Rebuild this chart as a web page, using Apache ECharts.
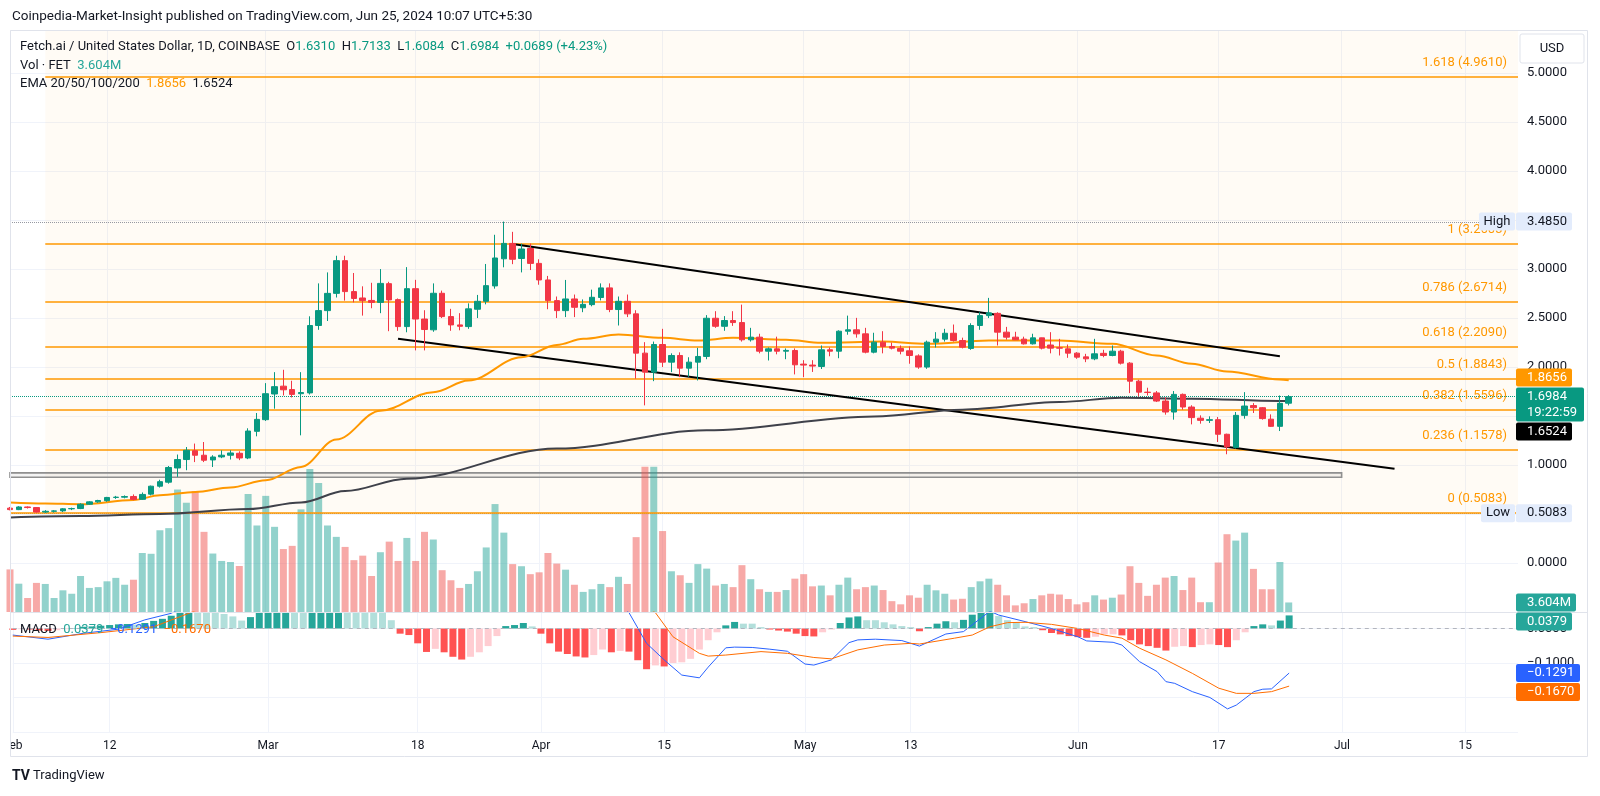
<!DOCTYPE html>
<html>
<head>
<meta charset="utf-8">
<title>Fetch.ai / United States Dollar, 1D</title>
<script src="https://cdn.jsdelivr.net/npm/echarts@6.0.0/dist/echarts.min.js"></script>
<style>
html,body{margin:0;padding:0;background:#ffffff;}
#chart{width:1600px;height:796px;}
</style>
</head>
<body>
<div id="chart"></div>
<script>
// ================= DATA =================
const firstDay = '2024-02-01';
const lastDay = '2024-07-21';
const tickLabels = {
  '2024-02-01':'Feb','2024-02-12':'12','2024-03-01':'Mar','2024-03-18':'18',
  '2024-04-01':'Apr','2024-04-15':'15','2024-05-01':'May','2024-05-13':'13',
  '2024-06-01':'Jun','2024-06-17':'17','2024-07-01':'Jul','2024-07-15':'15'
};
// daily candles [open, high, low, close], 2024-02-01 .. 2024-06-25
const ohlc = [
  // Feb
  [0.560,0.572,0.538,0.545],[0.545,0.580,0.540,0.572],[0.572,0.578,0.556,0.566],[0.566,0.570,0.515,0.520],
  [0.520,0.540,0.510,0.528],[0.528,0.540,0.515,0.532],[0.532,0.560,0.520,0.553],[0.553,0.565,0.540,0.556],
  [0.556,0.610,0.550,0.600],[0.600,0.630,0.595,0.624],[0.624,0.645,0.615,0.638],[0.636,0.675,0.625,0.669],
  [0.669,0.685,0.655,0.672],[0.672,0.690,0.660,0.678],[0.679,0.700,0.640,0.649],[0.650,0.720,0.645,0.700],
  [0.703,0.790,0.690,0.784],[0.784,0.850,0.770,0.830],[0.825,0.990,0.810,0.975],[0.970,1.107,0.879,1.056],
  [1.056,1.184,0.947,1.151],[1.146,1.219,1.030,1.100],[1.100,1.235,1.030,1.049],[1.052,1.100,0.980,1.082],
  [1.083,1.150,1.070,1.100],[1.100,1.151,1.056,1.123],[1.120,1.140,1.050,1.072],[1.072,1.375,1.060,1.347],
  [1.344,1.531,1.293,1.466],
  // Mar
  [1.463,1.836,1.450,1.728],[1.725,1.948,1.575,1.800],[1.805,1.972,1.710,1.768],[1.770,1.860,1.690,1.721],
  [1.728,1.948,1.303,1.740],[1.736,2.518,1.720,2.424],[2.424,2.854,2.380,2.576],[2.576,2.966,2.470,2.752],
  [2.752,3.136,2.710,3.086],[3.086,3.136,2.678,2.770],[2.770,2.960,2.660,2.700],[2.705,2.824,2.525,2.678],
  [2.680,2.860,2.600,2.660],[2.660,3.000,2.550,2.854],[2.851,2.870,2.366,2.685],[2.688,2.700,2.370,2.413],
  [2.413,3.020,2.355,2.800],[2.800,2.890,2.170,2.490],[2.490,2.580,2.170,2.383],[2.380,2.854,2.360,2.753],
  [2.753,2.780,2.500,2.515],[2.515,2.594,2.370,2.430],[2.430,2.550,2.375,2.416],[2.413,2.650,2.390,2.594],
  [2.590,2.736,2.500,2.671],[2.671,3.052,2.640,2.831],[2.828,3.350,2.800,3.113],[3.105,3.485,3.018,3.262],
  [3.262,3.380,3.050,3.100],[3.108,3.260,2.966,3.205],[3.210,3.260,2.990,3.058],
  // Apr
  [3.058,3.100,2.840,2.889],[2.889,2.930,2.590,2.678],[2.678,2.720,2.500,2.576],[2.576,2.889,2.510,2.695],
  [2.695,2.740,2.510,2.610],[2.605,2.690,2.560,2.640],[2.637,2.790,2.620,2.712],[2.710,2.854,2.680,2.808],
  [2.808,2.854,2.560,2.587],[2.587,2.720,2.424,2.671],[2.671,2.740,2.510,2.543],[2.543,2.580,1.881,2.142],
  [2.142,2.254,1.609,1.948],[1.948,2.260,1.856,2.230],[2.230,2.390,2.000,2.050],[2.050,2.140,1.948,2.118],
  [2.118,2.150,1.897,1.989],[1.989,2.100,1.900,2.050],[2.050,2.196,1.863,2.108],[2.108,2.530,2.080,2.498],
  [2.498,2.570,2.400,2.416],[2.416,2.520,2.370,2.475],[2.475,2.570,2.420,2.454],[2.454,2.637,2.260,2.278],
  [2.278,2.400,2.260,2.305],[2.305,2.340,2.140,2.162],[2.162,2.200,2.067,2.186],[2.186,2.310,2.130,2.162],
  [2.162,2.190,2.080,2.170],[2.169,2.190,1.925,2.023],
  // May
  [2.030,2.070,1.897,2.020],[2.020,2.070,1.950,2.010],[2.006,2.220,1.980,2.176],[2.176,2.200,2.110,2.162],
  [2.162,2.375,2.090,2.366],[2.366,2.525,2.330,2.380],[2.380,2.502,2.300,2.339],[2.339,2.400,2.140,2.152],
  [2.152,2.350,2.140,2.254],[2.254,2.366,2.140,2.210],[2.210,2.250,2.180,2.193],[2.190,2.220,2.130,2.162],
  [2.166,2.210,2.034,2.118],[2.114,2.130,1.982,2.000],[2.000,2.270,1.982,2.254],[2.254,2.356,2.200,2.285],
  [2.285,2.390,2.260,2.345],[2.345,2.434,2.260,2.271],[2.271,2.300,2.190,2.203],[2.190,2.447,2.176,2.424],
  [2.424,2.559,2.380,2.525],[2.525,2.706,2.500,2.553],[2.548,2.559,2.220,2.356],[2.356,2.410,2.280,2.305],
  [2.305,2.360,2.280,2.278],[2.285,2.310,2.230,2.237],[2.237,2.340,2.230,2.298],[2.298,2.300,2.180,2.193],
  [2.225,2.356,2.140,2.193],[2.197,2.288,2.118,2.193],[2.186,2.230,2.094,2.142],
  // Jun
  [2.142,2.152,2.084,2.101],[2.104,2.135,2.050,2.084],[2.084,2.288,2.070,2.135],[2.140,2.176,2.100,2.118],
  [2.118,2.220,2.110,2.162],[2.162,2.176,2.026,2.040],[2.040,2.050,1.734,1.856],[1.856,1.870,1.700,1.744],
  [1.744,1.789,1.710,1.740],[1.736,1.755,1.643,1.653],[1.653,1.690,1.514,1.541],[1.541,1.755,1.463,1.721],
  [1.721,1.730,1.565,1.592],[1.592,1.610,1.415,1.484],[1.478,1.507,1.422,1.456],[1.456,1.497,1.429,1.463],
  [1.463,1.490,1.235,1.314],[1.314,1.320,1.110,1.185],[1.180,1.541,1.168,1.507],[1.507,1.744,1.473,1.602],
  [1.607,1.632,1.531,1.585],[1.585,1.592,1.463,1.474],[1.468,1.517,1.388,1.395],[1.395,1.710,1.347,1.6295],
  [1.6310,1.7133,1.6084,1.6984]
];
// daily volume (millions of FET)
const volumes = [
  16.1,10.7,5.3,11.0,10.6,5.3,8.2,6.9,13.6,9.1,9.4,11.6,12.9,10.3,12.2,22.3,22.0,30.9,31.7,46.3,41.3,45.7,30.3,22.1,19.3,18.9,17.4,44.6,32.7,
  43.9,32.2,23.8,25.0,38.8,54.1,48.8,32.7,28.4,24.6,19.6,21.3,13.6,22.6,26.6,19.3,28.0,19.3,30.3,27.4,15.8,12.0,9.1,10.6,15.4,24.4,40.8,30.0,18.1,17.3,14.3,
  15.0,22.3,18.3,16.0,10.3,7.6,8.6,10.6,9.4,13.3,10.6,28.3,54.9,54.9,30.6,15.4,13.9,11.0,18.1,16.4,10.0,10.6,9.4,17.7,12.4,8.6,7.6,7.6,8.3,12.6,
  14.3,9.7,10.0,6.3,10.3,13.0,8.6,9.4,10.0,8.3,4.1,2.9,6.3,5.4,10.3,8.2,6.9,4.7,5.0,9.4,11.6,12.6,10.3,6.3,2.5,3.3,4.9,6.3,6.9,6.6,4.9,
  2.9,3.7,6.3,4.7,5.4,6.6,17.3,11.0,6.1,10.3,13.0,13.6,8.3,13.0,3.7,3.7,18.7,29.4,27.0,30.0,16.3,8.6,8.6,18.9,3.604
];
// MACD histogram
const macdHist = [
  -0.004,-0.002,-0.003,-0.006,-0.007,-0.005,-0.002,0.001,0.005,0.006,0.008,0.010,0.012,0.013,0.011,0.016,0.022,0.028,0.037,0.050,0.058,0.056,0.052,0.048,0.042,0.035,0.023,0.033,0.050,
  0.065,0.072,0.075,0.066,0.060,0.080,0.095,0.105,0.115,0.108,0.095,0.080,0.062,0.050,0.024,-0.015,-0.019,-0.043,-0.068,-0.059,-0.069,-0.082,-0.090,-0.082,-0.069,-0.051,-0.022,0.007,0.010,0.016,0.006,
  -0.015,-0.043,-0.067,-0.074,-0.081,-0.084,-0.077,-0.061,-0.069,-0.065,-0.067,-0.092,-0.118,-0.107,-0.110,-0.100,-0.098,-0.088,-0.061,-0.034,-0.011,0.009,0.019,0.014,0.014,0.004,-0.003,-0.006,-0.009,-0.015,
  -0.022,-0.023,-0.011,-0.003,0.016,0.032,0.035,0.024,0.024,0.018,0.012,0.007,0.004,-0.008,0.004,0.014,0.021,0.018,0.025,0.040,0.047,0.048,0.036,0.024,0.018,0.006,0.004,-0.005,-0.013,-0.017,-0.022,
  -0.025,-0.027,-0.024,-0.017,-0.017,-0.020,-0.034,-0.046,-0.051,-0.056,-0.064,-0.053,-0.051,-0.054,-0.048,-0.046,-0.048,-0.054,-0.034,-0.011,0.007,0.012,0.009,0.023,0.0379
];
// moving averages
const ema50Pts = [
  ['2024-02-01',0.618],['2024-02-05',0.608],['2024-02-09',0.600],['2024-02-15',0.642],['2024-02-18',0.692],
  ['2024-02-22',0.726],['2024-02-26',0.771],['2024-03-01',0.845],['2024-03-05',0.981],['2024-03-09',1.260],
  ['2024-03-14',1.555],['2024-03-20',1.744],['2024-03-24',1.863],['2024-03-30',2.100],['2024-04-03',2.225],
  ['2024-04-06',2.288],['2024-04-10',2.332],['2024-04-15',2.298],['2024-04-19',2.271],['2024-04-23',2.298],
  ['2024-04-29',2.278],['2024-05-03',2.247],['2024-05-10',2.260],['2024-05-15',2.237],['2024-05-22',2.271],
  ['2024-05-30',2.271],['2024-06-05',2.237],['2024-06-10',2.118],['2024-06-14',2.034],['2024-06-18',1.955],
  ['2024-06-24',1.873],['2024-06-25',1.8656]
];
const ema200Pts = [
  ['2024-02-01',0.465],['2024-02-09',0.479],['2024-02-18',0.499],['2024-02-28',0.550],['2024-03-05',0.618],
  ['2024-03-10',0.735],['2024-03-17',0.860],['2024-04-03',1.168],['2024-04-20',1.354],['2024-05-09',1.495],
  ['2024-05-19',1.565],['2024-05-30',1.643],['2024-06-06',1.687],['2024-06-14',1.677],['2024-06-24',1.653],
  ['2024-06-25',1.6524]
];
const macdPts = [
  ['2024-02-01',-0.019],['2024-02-05',-0.031],['2024-02-09',-0.014],['2024-02-13',-0.002],['2024-02-16',0.025],
  ['2024-02-19',0.044],['2024-02-22',0.085],['2024-03-01',0.160],['2024-03-09',0.300],['2024-03-20',0.250],
  ['2024-04-01',0.190],['2024-04-08',0.110],['2024-04-11',0.046],['2024-04-13',-0.043],['2024-04-15',-0.091],
  ['2024-04-17',-0.135],['2024-04-19',-0.143],['2024-04-20',-0.112],['2024-04-22',-0.056],['2024-04-23',-0.054],
  ['2024-04-25',-0.055],['2024-04-27',-0.060],['2024-04-29',-0.066],['2024-05-01',-0.103],['2024-05-02',-0.106],
  ['2024-05-04',-0.091],['2024-05-06',-0.041],['2024-05-07',-0.033],['2024-05-09',-0.031],['2024-05-12',-0.035],
  ['2024-05-14',-0.051],['2024-05-17',-0.016],['2024-05-19',-0.009],['2024-05-22',0.050],['2024-05-23',0.039],
  ['2024-05-26',0.020],['2024-05-29',0.000],['2024-06-01',-0.024],['2024-06-02',-0.036],['2024-06-05',-0.040],
  ['2024-06-06',-0.048],['2024-06-08',-0.096],['2024-06-10',-0.125],['2024-06-11',-0.154],['2024-06-12',-0.159],
  ['2024-06-14',-0.183],['2024-06-16',-0.200],['2024-06-18',-0.233],['2024-06-19',-0.222],['2024-06-21',-0.183],
  ['2024-06-22',-0.176],['2024-06-23',-0.175],['2024-06-25',-0.1291]
];
const signalPts = [
  ['2024-02-01',-0.022],['2024-02-05',-0.026],['2024-02-11',-0.012],['2024-02-17',0.005],['2024-02-21',0.044],
  ['2024-02-24',0.075],['2024-03-05',0.130],['2024-03-15',0.240],['2024-03-25',0.230],['2024-04-05',0.170],
  ['2024-04-11',0.100],['2024-04-14',0.046],['2024-04-16',-0.024],['2024-04-19',-0.072],['2024-04-20',-0.080],
  ['2024-04-22',-0.077],['2024-04-26',-0.067],['2024-04-29',-0.072],['2024-05-02',-0.084],['2024-05-04',-0.088],
  ['2024-05-07',-0.062],['2024-05-10',-0.048],['2024-05-13',-0.043],['2024-05-14',-0.045],['2024-05-18',-0.028],
  ['2024-05-20',-0.019],['2024-05-22',0.005],['2024-05-24',0.017],['2024-05-26',0.018],['2024-05-29',0.012],
  ['2024-06-01',0.000],['2024-06-04',-0.019],['2024-06-06',-0.028],['2024-06-08',-0.057],['2024-06-11',-0.091],
  ['2024-06-14',-0.130],['2024-06-17',-0.173],['2024-06-19',-0.188],['2024-06-21',-0.188],['2024-06-23',-0.183],
  ['2024-06-25',-0.1670]
];
// drawings
const fibRatios = ['1.618','1','0.786','0.618','0.5','0.382','0.236','0'];
const fibPrices = [4.9610, 3.2603, 2.6714, 2.2090, 1.8843, 1.5596, 1.1578, 0.5083];
const fibStart = '2024-02-05';
const channelUpper = [['2024-03-29', 3.256], ['2024-06-24', 2.110]];
const channelLower = [['2024-03-16', 2.289], ['2024-07-07', 0.963]];
const supportZone = [['2024-02-01', 0.920], ['2024-07-01', 0.875]];
const rangeHigh = 3.4850, rangeLow = 0.5083;
const emaLast = [1.8656, 1.6524];
const volLast = 3.604;
const macdLast = [0.0379, -0.1291, -0.1670];
const countdown = '19:22:59';

// ================= BUILD =================
const FONT = "Roboto, 'Noto Sans', 'DejaVu Sans', sans-serif";
const UP = '#089981', DOWN = '#f23645';
const dates = [];
for (let t = Date.parse(firstDay + 'T00:00:00Z'); t <= Date.parse(lastDay + 'T00:00:00Z'); t += 86400000) {
  dates.push(new Date(t).toISOString().slice(0, 10));
}
const isTick = (i, v) => tickLabels[v] !== undefined;
const candleData = ohlc.map(([o, h, l, c]) => [o, c, l, h]);
const volData = volumes.map((v, i) => ({
  value: v,
  itemStyle: { color: ohlc[i][3] >= ohlc[i][0] ? 'rgba(38,166,154,0.5)' : 'rgba(239,83,80,0.5)' }
}));
const histData = macdHist.map((v, i) => {
  const p = i > 0 ? macdHist[i - 1] : 0;
  let col;
  if (v >= 0) col = v > p ? '#26a69a' : '#b2dfdb';
  else col = v < p ? '#ff5252' : '#ffcdd2';
  return { value: v, itemStyle: { color: col } };
});
const fmt4 = v => v.toFixed(4);
const sgn = v => (v < 0 ? '\u2212' : '') + Math.abs(v).toFixed(4);

const fibLines = fibPrices.map((p, k) => [
  { coord: [k === fibPrices.length - 1 ? firstDay : fibStart, p] },
  { coord: [lastDay, p] }
]);

const chart = echarts.init(document.getElementById('chart'), null, { renderer: 'canvas' });
const option = {
  animation: false,
  backgroundColor: '#ffffff',
  textStyle: { fontFamily: FONT },
  grid: [
    { left: 10, top: 30, width: 1508, height: 582 },
    { left: 10, top: 612, width: 1508, height: 120 }
  ],
  xAxis: [
    { type: 'category', data: dates, gridIndex: 0, boundaryGap: false,
      axisLine: { show: false }, axisTick: { show: false }, axisLabel: { show: false },
      splitLine: { show: true, interval: isTick, lineStyle: { color: '#f0f3fa', width: 1 } } },
    { type: 'category', data: dates, gridIndex: 1, boundaryGap: false,
      axisLine: { show: false }, axisTick: { show: false },
      axisLabel: { show: true, interval: isTick, formatter: v => tickLabels[v] || '', color: '#131722',
        fontSize: 12, fontFamily: FONT, margin: 8 },
      splitLine: { show: true, interval: isTick, lineStyle: { color: '#f0f3fa', width: 1 } } }
  ],
  yAxis: [
    { type: 'value', gridIndex: 0, position: 'right', min: -0.5, max: 5.44, interval: 0.5,
      axisLine: { show: false }, axisTick: { show: false },
      axisLabel: { showMaxLabel: false, margin: 9, color: '#131722', fontSize: 13, fontFamily: FONT,
        formatter: v => { const r = Math.round(v * 100) / 100; return ([-0.5, 0.5, 1.5, 3.5].includes(r) || r > 5.2) ? '' : r.toFixed(4); } },
      splitLine: { lineStyle: { color: '#f0f3fa' } } },
    { type: 'value', gridIndex: 0, min: 0, max: 220, show: false, splitLine: { show: false } },
    { type: 'value', gridIndex: 1, position: 'right', min: -0.3, max: 0.0478, interval: 0.1,
      axisLine: { show: false }, axisTick: { show: false },
      axisLabel: { showMaxLabel: false, margin: 9, color: '#131722', fontSize: 13, fontFamily: FONT,
        formatter: v => { const r = Math.round(v * 1000) / 1000; return (r < -0.25 || r > 0.01) ? '' : sgn(r); } },
      splitLine: { lineStyle: { color: '#f0f3fa' } } }
  ],
  series: [
    { name: 'fibFill', type: 'line', xAxisIndex: 0, yAxisIndex: 0, data: [], z: 1, silent: true,
      markArea: { silent: true, itemStyle: { color: 'rgba(255,152,0,0.04)' },
        data: [[{ coord: [fibStart, 5.44] }, { coord: [lastDay, rangeLow] }]] } },
    { name: 'Volume', type: 'bar', xAxisIndex: 0, yAxisIndex: 1, data: volData, barWidth: 7, z: 2, silent: true },
    { name: 'levels', type: 'line', xAxisIndex: 0, yAxisIndex: 0, data: [], z: 3, silent: true,
      markArea: { silent: true, itemStyle: { color: 'rgba(160,160,160,0.12)', borderColor: '#8f8f8f', borderWidth: 1.6 },
        data: [[{ coord: supportZone[0] }, { coord: supportZone[1] }]] },
      markLine: { silent: true, symbol: ['none', 'none'], label: { show: false },
        data: [
          { yAxis: rangeHigh, lineStyle: { color: '#9598a1', type: 'dotted', width: 1 } },
          { yAxis: rangeLow, lineStyle: { color: '#9598a1', type: 'dotted', width: 1 } },
          { yAxis: ohlc[ohlc.length - 1][3], lineStyle: { color: UP, type: 'dotted', width: 1 } }
        ] } },
    { name: 'fib', type: 'line', xAxisIndex: 0, yAxisIndex: 0, data: [], z: 4, silent: true,
      markLine: { silent: true, symbol: ['none', 'none'], label: { show: false },
        lineStyle: { color: '#ff9800', width: 1.6, type: 'solid' }, data: fibLines } },
    { name: 'EMA200', type: 'line', xAxisIndex: 0, yAxisIndex: 0, data: ema200Pts, z: 5, silent: true,
      smooth: 0.35, smoothMonotone: 'x', showSymbol: false, lineStyle: { color: '#3f414a', width: 2 } },
    { name: 'EMA50', type: 'line', xAxisIndex: 0, yAxisIndex: 0, data: ema50Pts, z: 5, silent: true,
      smooth: 0.35, smoothMonotone: 'x', showSymbol: false, lineStyle: { color: '#ff9800', width: 2 } },
    { name: 'channel', type: 'line', xAxisIndex: 0, yAxisIndex: 0, data: [], z: 6, silent: true,
      markLine: { silent: true, symbol: ['none', 'none'], label: { show: false },
        lineStyle: { color: '#000000', width: 2, type: 'solid' },
        data: [
          [{ coord: channelUpper[0] }, { coord: channelUpper[1] }],
          [{ coord: channelLower[0] }, { coord: channelLower[1] }]
        ] } },
    { name: 'FETUSD', type: 'candlestick', xAxisIndex: 0, yAxisIndex: 0, data: candleData, z: 7, silent: true,
      barWidth: 6,
      itemStyle: { color: UP, color0: DOWN, borderColor: UP, borderColor0: DOWN, borderWidth: 1 } },
    { name: 'Histogram', type: 'bar', xAxisIndex: 1, yAxisIndex: 2, data: histData, barWidth: 7, z: 2, silent: true,
      markLine: { silent: true, symbol: ['none', 'none'], label: { show: false },
        lineStyle: { color: '#b2b5be', type: [4, 4], width: 1 }, data: [{ yAxis: 0 }] } },
    { name: 'MACD', type: 'line', xAxisIndex: 1, yAxisIndex: 2, data: macdPts, z: 3, silent: true,
      showSymbol: false, lineStyle: { color: '#2962ff', width: 1 } },
    { name: 'Signal', type: 'line', xAxisIndex: 1, yAxisIndex: 2, data: signalPts, z: 3, silent: true,
      showSymbol: false, lineStyle: { color: '#ff6d00', width: 1 } }
  ]
};
chart.setOption(option);

// ================= OVERLAY TEXT / BADGES =================
const py = v => chart.convertToPixel({ yAxisIndex: 0 }, v);
const vy = v => chart.convertToPixel({ yAxisIndex: 1 }, v);
const my = v => chart.convertToPixel({ yAxisIndex: 2 }, v);
const gx = d => chart.convertToPixel({ xAxisIndex: 0 }, d);
const plotRight = gx(lastDay);
const bx = plotRight - 2;
const els = [];
const txt = (x, y, text, fill, size, align, z, weight) => els.push({
  type: 'text', x, y, z: z || 40, silent: true,
  style: { text, fill, font: (weight ? weight + ' ' : '') + (size || 13) + 'px ' + FONT, align: align || 'left', verticalAlign: 'middle' }
});
const rect = (x, y, w, h, fill, z, stroke) => els.push({
  type: 'rect', z: z || 90, silent: true, shape: { x, y, width: w, height: h, r: 2 },
  style: { fill, stroke: stroke || null, lineWidth: 1 }
});
function badge(x, top, w, lines, bg, fg) {
  const h = 18 + (lines.length - 1) * 16;
  rect(x, top, w, h, bg, 90);
  lines.forEach((t, k) => txt(x + 11, top + 9 + k * 16, t, fg, 13, 'left', 91));
  return top + h;
}

// header
txt(12, 17, 'Coinpedia-Market-Insight published on TradingView.com, Jun 25, 2024 10:07 UTC+5:30', '#131722', 13.5);
// legend
const L = ohlc[ohlc.length - 1], P = ohlc[ohlc.length - 2][3];
const chg = L[3] - P;
const rich = {
  d: { fill: '#131722', fontSize: 13, fontFamily: FONT },
  g: { fill: UP, fontSize: 13, fontFamily: FONT },
  t: { fill: '#26a69a', fontSize: 13, fontFamily: FONT },
  o: { fill: '#ff9800', fontSize: 13, fontFamily: FONT },
  b: { fill: '#2962ff', fontSize: 13, fontFamily: FONT },
  r: { fill: '#ff6d00', fontSize: 13, fontFamily: FONT }
};
const richText = (x, y, text) => els.push({ type: 'text', x, y, z: 40, silent: true,
  style: { text, rich, fill: '#131722', font: '13px ' + FONT, align: 'left', verticalAlign: 'middle' } });
richText(20, 47, '{d|Fetch.ai / United States Dollar, 1D, COINBASE}  {d|O}{g|' + fmt4(L[0]) + '}  {d|H}{g|' + fmt4(L[1]) +
  '}  {d|L}{g|' + fmt4(L[2]) + '}  {d|C}{g|' + fmt4(L[3]) + '}  {g|+' + fmt4(chg) + ' (+' + (chg / P * 100).toFixed(2) + '%)}');
richText(20, 66, '{d|Vol \u00b7 FET}  {t|' + volLast.toFixed(3) + 'M}');
richText(20, 84, '{d|EMA 20/50/100/200}  {o|' + fmt4(emaLast[0]) + '}  {d|' + fmt4(emaLast[1]) + '}');
richText(20, 630, '{d|MACD}  {t|' + fmt4(macdLast[0]) + '}  {b|' + sgn(macdLast[1]) + '}  {r|' + sgn(macdLast[2]) + '}');

// fib labels
fibPrices.forEach((p, k) => txt(plotRight - 11, py(p) - 14, fibRatios[k] + ' (' + fmt4(p) + ')', '#ff9800', 13, 'right', 30));

// range high / low labels
const hY = py(rangeHigh) - 9;
rect(bx - 37, hY, 36, 18, '#e3ecfc', 90); txt(bx - 19, hY + 9, 'High', '#131722', 13, 'center', 91);
rect(bx, hY, 56, 18, '#e3ecfc', 90); txt(bx + 11, hY + 9, fmt4(rangeHigh), '#131722', 13, 'left', 91);
const lY = py(rangeLow) - 9;
rect(bx - 35, lY, 34, 18, '#e3ecfc', 90); txt(bx - 18, lY + 9, 'Low', '#131722', 13, 'center', 91);
rect(bx, lY, 56, 18, '#e3ecfc', 90); txt(bx + 11, lY + 9, fmt4(rangeLow), '#131722', 13, 'left', 91);

// price badges
const gTop = py(L[3]) - 9;
let oC = py(emaLast[0]);
if (oC + 9 > gTop - 1) oC = gTop - 10;
badge(bx, oC - 9, 56, [fmt4(emaLast[0])], '#ff9800', '#ffffff');
const gBot = badge(bx, gTop, 68, [fmt4(L[3]), countdown], UP, '#ffffff');
badge(bx, Math.max(py(emaLast[1]) - 9, gBot + 1), 56, [fmt4(emaLast[1])], '#000000', '#ffffff');
// volume / macd badges
const vBot = badge(bx, vy(volLast) - 9, 60, [volLast.toFixed(3) + 'M'], '#26a69a', '#ffffff');
badge(bx, Math.max(my(macdLast[0]) - 9, vBot + 1), 56, [fmt4(macdLast[0])], '#26a69a', '#ffffff');
const m2Bot = badge(bx, my(macdLast[1]) - 9, 64, [sgn(macdLast[1])], '#2962ff', '#ffffff');
badge(bx, Math.max(my(macdLast[2]) - 9, m2Bot + 1), 64, [sgn(macdLast[2])], '#ff6d00', '#ffffff');

// USD button
rect(1520, 34, 64, 29, '#ffffff', 95, '#e0e3eb');
txt(1552, 48.5, 'USD', '#131722', 13, 'center', 96);

// frame & separators
els.push({ type: 'rect', z: 80, silent: true, shape: { x: 10.5, y: 30.5, width: 1577, height: 726 },
  style: { fill: 'rgba(0,0,0,0)', stroke: '#e0e3eb', lineWidth: 1 } });
els.push({ type: 'line', z: 80, silent: true, shape: { x1: 10, y1: 612.5, x2: 1588, y2: 612.5 },
  style: { stroke: '#e0e3eb', lineWidth: 1 } });
// clip first time label at the frame edge
els.push({ type: 'rect', z: 85, silent: true, shape: { x: 0, y: 735, width: 10, height: 20 }, style: { fill: '#ffffff' } });
// TradingView logo
txt(12, 776, 'TV', '#131722', 14, 'left', 40, 'bold');
txt(33, 776, 'TradingView', '#131722', 13, 'left', 40);

chart.setOption({ graphic: { elements: els } });
</script>
</body>
</html>
